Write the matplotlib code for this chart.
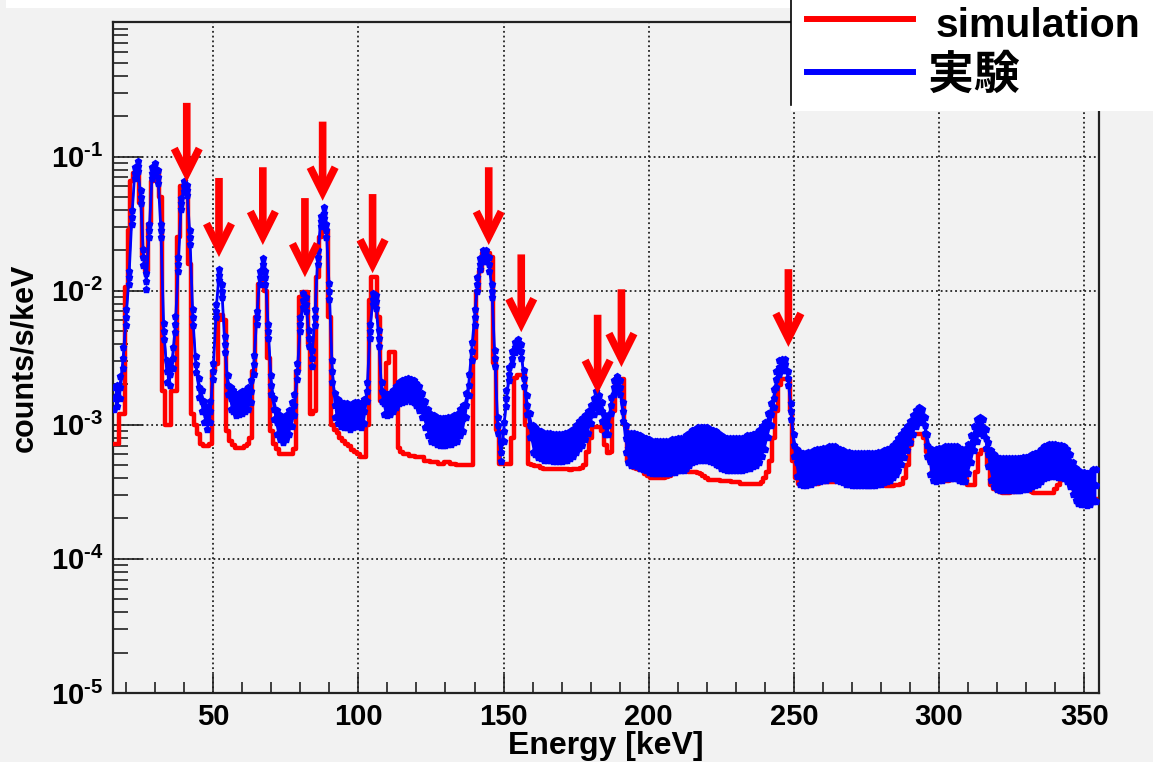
import numpy as np
import matplotlib.pyplot as plt
from matplotlib.patches import Rectangle
from matplotlib.lines import Line2D
from matplotlib.ticker import LogLocator, MultipleLocator, FixedLocator, FixedFormatter

plt.rcParams['font.family'] = ['Liberation Sans', 'DejaVu Sans']
plt.rcParams['mathtext.fontset'] = 'custom'
plt.rcParams['mathtext.rm'] = 'Liberation Sans:bold'
plt.rcParams['mathtext.bf'] = 'Liberation Sans:bold'
plt.rcParams['mathtext.default'] = 'bf'

# ---- data, 1 keV bins from 16 to 354 keV, values as log10(counts/s/keV)
energy = np.arange(16, 355)

sim_log10 = [
    -3.14, -3.14, -2.92, -2.92, -1.97, -1.55, -1.18, -1.12, -1.12, -1.35,
    -1.75, -1.85, -1.50, -1.18, -1.10, -1.10, -1.30, -2.75, -3.00, -3.00,
    -2.75, -2.75, -1.60, -1.22, -1.22, -1.22, -1.80, -2.92, -3.00, -3.07,
    -3.14, -3.16, -3.16, -3.14, -2.60, -2.55, -2.22, -2.18, -2.22, -3.05,
    -3.12, -3.15, -3.17, -3.17, -3.17, -3.16, -3.14, -3.10, -2.60, -2.20,
    -1.95, -1.93, -2.00, -2.50, -3.05, -3.14, -3.18, -3.22, -3.22, -3.22,
    -3.22, -3.22, -3.18, -2.60, -2.05, -2.01, -2.01, -2.40, -2.92, -2.90,
    -1.90, -1.60, -1.52, -1.55, -2.20, -3.00, -3.04, -3.06, -3.10, -3.12,
    -3.14, -3.16, -3.19, -3.20, -3.22, -3.24, -3.24, -3.00, -2.07, -1.90,
    -1.90, -2.20, -2.82, -2.82, -2.54, -2.46, -2.46, -2.82, -3.17, -3.20,
    -3.22, -3.22, -3.23, -3.23, -3.24, -3.24, -3.24, -3.27, -3.27, -3.28,
    -3.28, -3.28, -3.29, -3.29, -3.28, -3.28, -3.29, -3.29, -3.30, -3.30,
    -3.30, -3.30, -3.30, -3.30, -2.50, -2.00, -1.85, -1.72, -1.72, -1.72,
    -1.75, -2.54, -3.04, -3.29, -3.29, -3.29, -3.29, -3.10, -2.65, -2.63,
    -2.63, -2.63, -3.00, -3.29, -3.30, -3.31, -3.31, -3.32, -3.33, -3.33,
    -3.33, -3.33, -3.33, -3.33, -3.33, -3.33, -3.33, -3.34, -3.33, -3.33,
    -3.33, -3.32, -3.30, -3.20, -3.10, -3.02, -3.02, -3.02, -3.05, -3.15,
    -3.21, -3.20, -2.90, -2.66, -2.66, -2.66, -3.00, -3.27, -3.29, -3.32,
    -3.33, -3.34, -3.34, -3.37, -3.38, -3.40, -3.40, -3.40, -3.40, -3.40,
    -3.39, -3.38, -3.36, -3.35, -3.35, -3.34, -3.34, -3.34, -3.35, -3.35,
    -3.35, -3.36, -3.37, -3.38, -3.40, -3.41, -3.41, -3.41, -3.41, -3.42,
    -3.42, -3.42, -3.42, -3.43, -3.43, -3.43, -3.44, -3.44, -3.44, -3.44,
    -3.44, -3.44, -3.44, -3.43, -3.40, -3.35, -3.27, -3.10, -2.90, -2.70,
    -2.66, -2.66, -2.66, -2.90, -3.27, -3.40, -3.44, -3.44, -3.44, -3.44,
    -3.44, -3.44, -3.44, -3.43, -3.43, -3.43, -3.43, -3.43, -3.43, -3.42,
    -3.42, -3.41, -3.41, -3.41, -3.41, -3.42, -3.43, -3.44, -3.44, -3.45,
    -3.45, -3.45, -3.45, -3.45, -3.45, -3.45, -3.46, -3.46, -3.46, -3.45,
    -3.45, -3.44, -3.40, -3.30, -3.15, -3.08, -3.07, -3.07, -3.07, -3.10,
    -3.20, -3.27, -3.35, -3.40, -3.41, -3.41, -3.42, -3.42, -3.41, -3.40,
    -3.37, -3.37, -3.37, -3.38, -3.45, -3.45, -3.45, -3.35, -3.22, -3.19,
    -3.19, -3.30, -3.45, -3.48, -3.49, -3.50, -3.51, -3.51, -3.51, -3.50,
    -3.50, -3.49, -3.48, -3.48, -3.48, -3.49, -3.50, -3.51, -3.51, -3.51,
    -3.51, -3.51, -3.51, -3.51, -3.48, -3.45, -3.41, -3.40, -3.40, -3.42,
    -3.46, -3.50, -3.53, -3.54, -3.54, -3.54, -3.54, -3.55, -3.55,
]

exp_log10 = [
    -2.80, -2.78, -2.72, -2.50, -2.20, -1.90, -1.45, -1.12, -1.07, -1.30,
    -1.75, -1.93, -1.55, -1.12, -1.09, -1.15, -1.55, -2.30, -2.60, -2.62,
    -2.50, -2.25, -1.80, -1.35, -1.22, -1.25, -1.60, -2.20, -2.55, -2.72,
    -2.82, -2.90, -2.95, -2.90, -2.60, -2.15, -1.88, -2.00, -2.40, -2.70,
    -2.80, -2.82, -2.85, -2.84, -2.83, -2.82, -2.80, -2.75, -2.55, -2.20,
    -1.90, -1.80, -1.90, -2.30, -2.70, -2.88, -2.98, -3.02, -3.04, -3.02,
    -2.98, -2.92, -2.85, -2.60, -2.25, -2.07, -2.10, -2.35, -2.50, -2.20,
    -1.75, -1.48, -1.42, -1.55, -2.00, -2.60, -2.85, -2.90, -2.92, -2.93,
    -2.93, -2.94, -2.93, -2.92, -2.92, -2.93, -2.90, -2.75, -2.30, -2.06,
    -2.08, -2.35, -2.75, -2.84, -2.85, -2.84, -2.82, -2.79, -2.76, -2.75,
    -2.74, -2.73, -2.74, -2.75, -2.77, -2.80, -2.85, -2.92, -2.98, -3.02,
    -3.03, -3.04, -3.05, -3.05, -3.05, -3.04, -3.04, -3.03, -3.02, -2.98,
    -2.95, -2.85, -2.70, -2.45, -2.20, -1.95, -1.80, -1.74, -1.74, -1.80,
    -2.00, -2.50, -3.00, -3.20, -3.05, -2.80, -2.62, -2.50, -2.42, -2.40,
    -2.45, -2.65, -2.85, -3.00, -3.10, -3.12, -3.14, -3.15, -3.16, -3.16,
    -3.16, -3.17, -3.17, -3.17, -3.17, -3.16, -3.16, -3.15, -3.13, -3.10,
    -3.07, -3.05, -3.02, -2.98, -2.92, -2.86, -2.81, -2.84, -2.90, -3.00,
    -3.00, -2.85, -2.72, -2.69, -2.72, -2.90, -3.10, -3.17, -3.18, -3.18,
    -3.19, -3.20, -3.21, -3.22, -3.23, -3.24, -3.24, -3.24, -3.24, -3.24,
    -3.24, -3.24, -3.23, -3.23, -3.22, -3.22, -3.22, -3.20, -3.18, -3.16,
    -3.15, -3.14, -3.14, -3.14, -3.14, -3.15, -3.16, -3.17, -3.18, -3.20,
    -3.21, -3.22, -3.22, -3.22, -3.22, -3.22, -3.22, -3.21, -3.20, -3.20,
    -3.19, -3.18, -3.16, -3.12, -3.08, -3.00, -2.92, -2.80, -2.66, -2.57,
    -2.55, -2.55, -2.65, -2.90, -3.15, -3.28, -3.32, -3.33, -3.33, -3.32,
    -3.32, -3.31, -3.30, -3.30, -3.29, -3.29, -3.28, -3.28, -3.28, -3.29,
    -3.30, -3.31, -3.32, -3.32, -3.33, -3.33, -3.33, -3.33, -3.33, -3.33,
    -3.33, -3.33, -3.33, -3.32, -3.32, -3.31, -3.30, -3.29, -3.27, -3.25,
    -3.22, -3.18, -3.14, -3.10, -3.05, -3.00, -2.95, -2.92, -2.93, -3.00,
    -3.15, -3.27, -3.30, -3.30, -3.29, -3.29, -3.28, -3.28, -3.28, -3.28,
    -3.28, -3.29, -3.30, -3.30, -3.25, -3.18, -3.10, -3.04, -3.00, -3.02,
    -3.10, -3.22, -3.30, -3.34, -3.36, -3.37, -3.37, -3.37, -3.37, -3.37,
    -3.37, -3.37, -3.37, -3.36, -3.36, -3.35, -3.34, -3.33, -3.32, -3.30,
    -3.28, -3.27, -3.26, -3.26, -3.26, -3.27, -3.27, -3.28, -3.30, -3.34,
    -3.40, -3.44, -3.46, -3.47, -3.47, -3.48, -3.47, -3.45, -3.45,
]

# half-width of the scatter of the measured points (decades)
exp_spread = [
    0.08, 0.08, 0.08, 0.08, 0.06, 0.05, 0.05, 0.04, 0.04, 0.05,
    0.06, 0.06, 0.05, 0.04, 0.04, 0.05, 0.05, 0.06, 0.08, 0.08,
    0.08, 0.06, 0.05, 0.04, 0.04, 0.04, 0.05, 0.06, 0.06, 0.07,
    0.08, 0.08, 0.08, 0.08, 0.06, 0.05, 0.04, 0.05, 0.06, 0.07,
    0.08, 0.08, 0.08, 0.08, 0.08, 0.08, 0.08, 0.08, 0.07, 0.05,
    0.05, 0.04, 0.05, 0.05, 0.07, 0.08, 0.09, 0.09, 0.09, 0.09,
    0.09, 0.09, 0.08, 0.06, 0.05, 0.05, 0.05, 0.06, 0.06, 0.06,
    0.05, 0.04, 0.04, 0.05, 0.06, 0.08, 0.09, 0.09, 0.09, 0.09,
    0.09, 0.09, 0.09, 0.09, 0.09, 0.09, 0.09, 0.07, 0.05, 0.04,
    0.05, 0.06, 0.07, 0.08, 0.08, 0.08, 0.08, 0.08, 0.08, 0.08,
    0.08, 0.08, 0.08, 0.08, 0.08, 0.09, 0.09, 0.10, 0.10, 0.10,
    0.10, 0.10, 0.10, 0.10, 0.10, 0.10, 0.10, 0.10, 0.10, 0.10,
    0.10, 0.09, 0.08, 0.07, 0.06, 0.05, 0.04, 0.04, 0.04, 0.05,
    0.05, 0.06, 0.06, 0.07, 0.07, 0.06, 0.05, 0.05, 0.04, 0.04,
    0.05, 0.06, 0.07, 0.09, 0.10, 0.10, 0.10, 0.10, 0.10, 0.10,
    0.10, 0.10, 0.10, 0.10, 0.10, 0.10, 0.10, 0.10, 0.10, 0.10,
    0.10, 0.10, 0.09, 0.08, 0.07, 0.06, 0.06, 0.06, 0.07, 0.07,
    0.07, 0.06, 0.05, 0.05, 0.05, 0.07, 0.10, 0.11, 0.12, 0.12,
    0.12, 0.12, 0.12, 0.12, 0.12, 0.12, 0.12, 0.12, 0.12, 0.12,
    0.12, 0.12, 0.12, 0.12, 0.12, 0.12, 0.12, 0.12, 0.12, 0.12,
    0.12, 0.12, 0.12, 0.12, 0.12, 0.12, 0.12, 0.12, 0.12, 0.12,
    0.12, 0.12, 0.12, 0.12, 0.12, 0.12, 0.12, 0.12, 0.12, 0.12,
    0.12, 0.12, 0.12, 0.11, 0.10, 0.09, 0.08, 0.07, 0.06, 0.05,
    0.04, 0.04, 0.05, 0.06, 0.08, 0.10, 0.12, 0.12, 0.12, 0.12,
    0.12, 0.12, 0.12, 0.12, 0.12, 0.12, 0.12, 0.12, 0.12, 0.12,
    0.12, 0.12, 0.12, 0.12, 0.12, 0.12, 0.12, 0.12, 0.12, 0.12,
    0.12, 0.12, 0.12, 0.12, 0.12, 0.12, 0.12, 0.12, 0.12, 0.12,
    0.12, 0.11, 0.10, 0.09, 0.08, 0.07, 0.06, 0.05, 0.05, 0.06,
    0.08, 0.10, 0.11, 0.12, 0.12, 0.12, 0.12, 0.12, 0.12, 0.12,
    0.12, 0.12, 0.12, 0.12, 0.11, 0.10, 0.09, 0.08, 0.06, 0.06,
    0.07, 0.09, 0.11, 0.12, 0.12, 0.12, 0.12, 0.12, 0.12, 0.12,
    0.12, 0.12, 0.12, 0.12, 0.12, 0.12, 0.12, 0.12, 0.12, 0.12,
    0.12, 0.12, 0.12, 0.12, 0.12, 0.12, 0.12, 0.12, 0.12, 0.12,
    0.12, 0.12, 0.12, 0.12, 0.12, 0.12, 0.12, 0.12, 0.12,
]

# red arrows marking the lines: energy, log10 of tip and of tail
arrow_energy = [40.9, 52.0, 67.1, 81.6, 87.7, 104.9, 144.9, 156.1, 182.4, 190.6, 248.1]
arrow_tip = [-1.19, -1.75, -1.66, -1.90, -1.33, -1.87, -1.66, -2.31, -2.77, -2.57, -2.42]
arrow_tail = [-0.60, -1.16, -1.08, -1.31, -0.74, -1.28, -1.08, -1.73, -2.18, -1.99, -1.84]

ytick_values = [1e-5, 1e-4, 1e-3, 1e-2, 1e-1]
ytick_labels = ['$10^{\u20105}$', '$10^{\u20104}$', '$10^{\u20103}$', '$10^{\u20102}$', '$10^{\u20101}$']

sim = 10 ** np.array(sim_log10)
exp_mid = np.array(exp_log10)
exp_hw = np.array(exp_spread)
exp_hi = 10 ** (exp_mid + exp_hw)
exp_lo = 10 ** (exp_mid - exp_hw)
exp_c = 10 ** exp_mid

# ---- figure
bg = '#f2f2f2'
fig = plt.figure(figsize=(11.53, 7.62), dpi=100, facecolor=bg)
ax = fig.add_axes([0.098, 0.0906, 0.855, 0.880], facecolor=bg)

ax.step(energy, sim, where='mid', color='#ff0000', lw=3.2, zorder=3)

ax.fill_between(energy, exp_lo, exp_hi, color='#0000ff', lw=0, zorder=4)
ax.plot(energy, exp_c, color='#0000ff', lw=2.0, zorder=4)
for yy in (exp_lo, exp_c, exp_hi):
    ax.plot(energy, yy, ls='none', marker='p', ms=5, color='#0000ff', mec='#0000ff', zorder=5)

for e, tip, tail in zip(arrow_energy, arrow_tip, arrow_tail):
    ax.annotate('', xy=(e, 10 ** tip), xytext=(e, 10 ** tail),
                arrowprops=dict(arrowstyle='->,head_length=0.9,head_width=0.45',
                                color='#ff0000', lw=5.5, shrinkA=0, shrinkB=0,
                                mutation_scale=20, capstyle='butt', joinstyle='miter'),
                zorder=6)

ax.set_yscale('log')
ax.set_xlim(15.5, 355)
ax.set_ylim(1e-5, 1)

ax.xaxis.set_major_locator(MultipleLocator(50))
ax.xaxis.set_minor_locator(MultipleLocator(10))
ax.yaxis.set_major_locator(FixedLocator(ytick_values))
ax.yaxis.set_major_formatter(FixedFormatter(ytick_labels))
ax.yaxis.set_minor_locator(LogLocator(base=10, subs=range(2, 10), numticks=20))

ax.tick_params(which='both', direction='in', top=False, right=False, width=1.2, color='#222222')
ax.tick_params(axis='x', which='major', length=13.5, pad=7, labelsize=21)
ax.tick_params(axis='x', which='minor', length=8)
ax.tick_params(axis='y', which='major', length=21.5, pad=7, labelsize=21)
ax.tick_params(axis='y', which='minor', length=11)
for lab in ax.get_xticklabels():
    lab.set_fontweight('bold')

ax.grid(True, which='major', ls=':', color='#222222', lw=1.3)
for sp in ax.spines.values():
    sp.set_linewidth(1.6)
    sp.set_color('#222222')

fig.text(24 / 1153, 1 - 358 / 762, 'counts/s/keV', rotation=90, ha='center', va='center',
         fontsize=22, fontweight='bold')
fig.text(606 / 1153, 1 - 746 / 762, 'Energy [keV]', ha='center', va='center',
         fontsize=23, fontweight='bold')

# white strip at top and legend box
fig.add_artist(Rectangle((6 / 1153, 1 - 8 / 762), 1, 8 / 762, transform=fig.transFigure,
                         facecolor='white', edgecolor='none', zorder=10))
fig.add_artist(Rectangle((791 / 1153, 1 - 111 / 762), 1, 111 / 762, transform=fig.transFigure,
                         facecolor='white', edgecolor='none', zorder=10))
fig.add_artist(Line2D([791 / 1153, 791 / 1153], [1, 1 - 105 / 762], transform=fig.transFigure,
                      color='black', lw=1.2, zorder=11))
fig.add_artist(Line2D([807 / 1153, 913 / 1153], [1 - 19 / 762] * 2, transform=fig.transFigure,
                      color='#ff0000', lw=4.3, zorder=11))
fig.add_artist(Line2D([807 / 1153, 913 / 1153], [1 - 72 / 762] * 2, transform=fig.transFigure,
                      color='#0000ff', lw=4.3, zorder=11))
fig.text(936 / 1153, 1 - 37 / 762, 'simulation', fontsize=29.5, fontweight='bold',
         va='baseline', zorder=12)
fig.text(928 / 1153, 1 - 76 / 762, '実験', fontsize=33, fontweight='bold',
         family=['Noto Sans CJK JP'], va='center', zorder=12)

fig.savefig('out.png', dpi=100, facecolor=bg)
